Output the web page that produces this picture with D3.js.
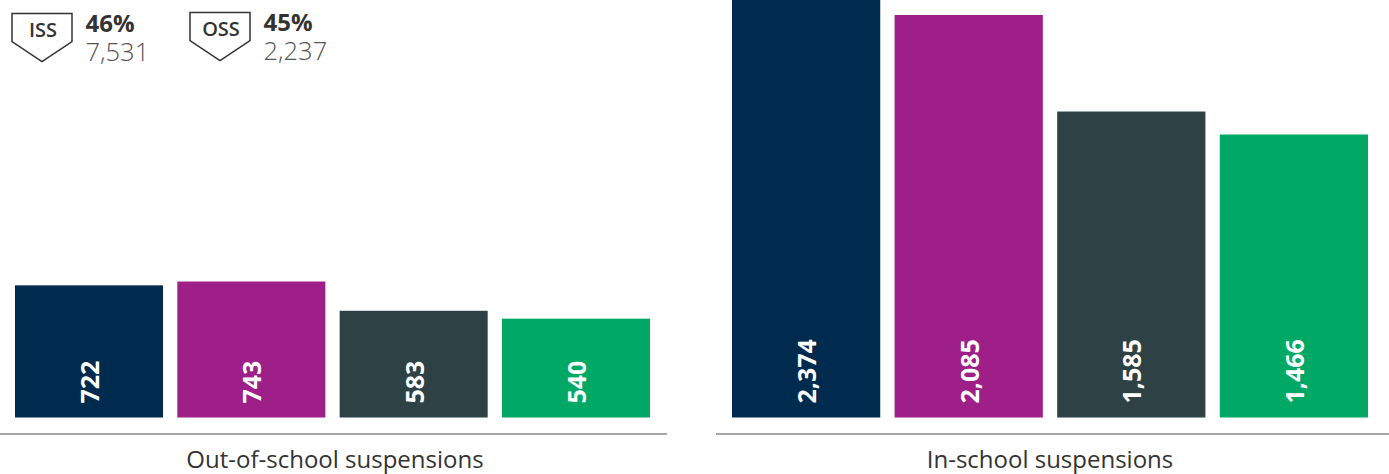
<!DOCTYPE html>
<html><head><meta charset="utf-8">
<script src="https://cdn.jsdelivr.net/npm/d3@7/dist/d3.min.js"></script>
<style>html,body{margin:0;padding:0;background:#fff}svg{display:block;font-family:"Open Sans",sans-serif}</style>
</head><body><svg id="c" width="1389" height="474"></svg>
<script>
const groups = ["a","b","c","d"];
const colors = ["#002b4f","#9e1f87","#2e4145","#00a865"];
const oosValues = [722,743,583,540];
const issValues = [2374,2085,1585,1466];
const panelTitles = ["Out-of-school suspensions","In-school suspensions"];
const legendLabels = ["ISS","OSS"];
const legendPcts = ["46%","45%"];
const legendCounts = ["7,531","2,237"];

const svg = d3.select("#c");
const fmt = d3.format(",");
const baseY = 417.5;

function panel(values, xr, yMax, axisR, title, titleX){
  const x = d3.scaleBand().domain(groups).range(xr).paddingInner(14.33/162.33).paddingOuter(0);
  const y = d3.scaleLinear().domain([0,yMax]).range([baseY,baseY-400]);
  const g = svg.append("g");
  g.selectAll("rect").data(values).join("rect")
    .attr("x",(d,i)=>x(groups[i])).attr("width",x.bandwidth())
    .attr("y",d=>y(d)).attr("height",d=>baseY-y(d))
    .attr("fill",(d,i)=>colors[i]);
  g.selectAll("text.v").data(values).join("text").attr("class","v")
    .attr("transform",(d,i)=>`translate(${x(groups[i])+x.bandwidth()/2+10},${baseY-14}) rotate(-90)`)
    .attr("font-size",25).attr("font-weight",700).attr("fill","#fff").text(d=>fmt(d));
  g.append("line").attr("x1",axisR[0]).attr("x2",axisR[1]).attr("y1",434).attr("y2",434)
    .attr("stroke","#8a8a8a").attr("stroke-width",1.5);
  g.append("text").attr("x",titleX).attr("y",467.5).attr("text-anchor","middle")
    .attr("font-size",24).attr("fill","#333").text(title);
}
panel(oosValues,[15,650],743/136*400,[0,667],panelTitles[0],335);
panel(issValues,[732,1368],2085/402.5*400,[716,1389],panelTitles[1],1050);

const lx=[12,190], ly=[13.5,12.5];
legendLabels.forEach((t,i)=>{
  const g=svg.append("g").attr("transform",`translate(${lx[i]},${ly[i]})`);
  g.append("path").attr("d",d3.line()([[0,0],[60,0],[60,28],[30,48],[0,28]])+"Z")
    .attr("fill","#fff").attr("stroke","#333").attr("stroke-width",1.5);
  g.append("text").attr("x",31).attr("y",23.5).attr("text-anchor","middle")
    .attr("font-size",20).attr("font-weight",600).attr("fill","#333").text(t);
  g.append("text").attr("x",73.5).attr("y",18.5).attr("font-size",24).attr("font-weight",700).attr("fill","#333").text(legendPcts[i]);
  g.append("text").attr("x",73.5).attr("y",47.5).attr("font-size",25.5).attr("font-weight",300).attr("fill","#555").text(legendCounts[i]);
});
</script></body></html>
